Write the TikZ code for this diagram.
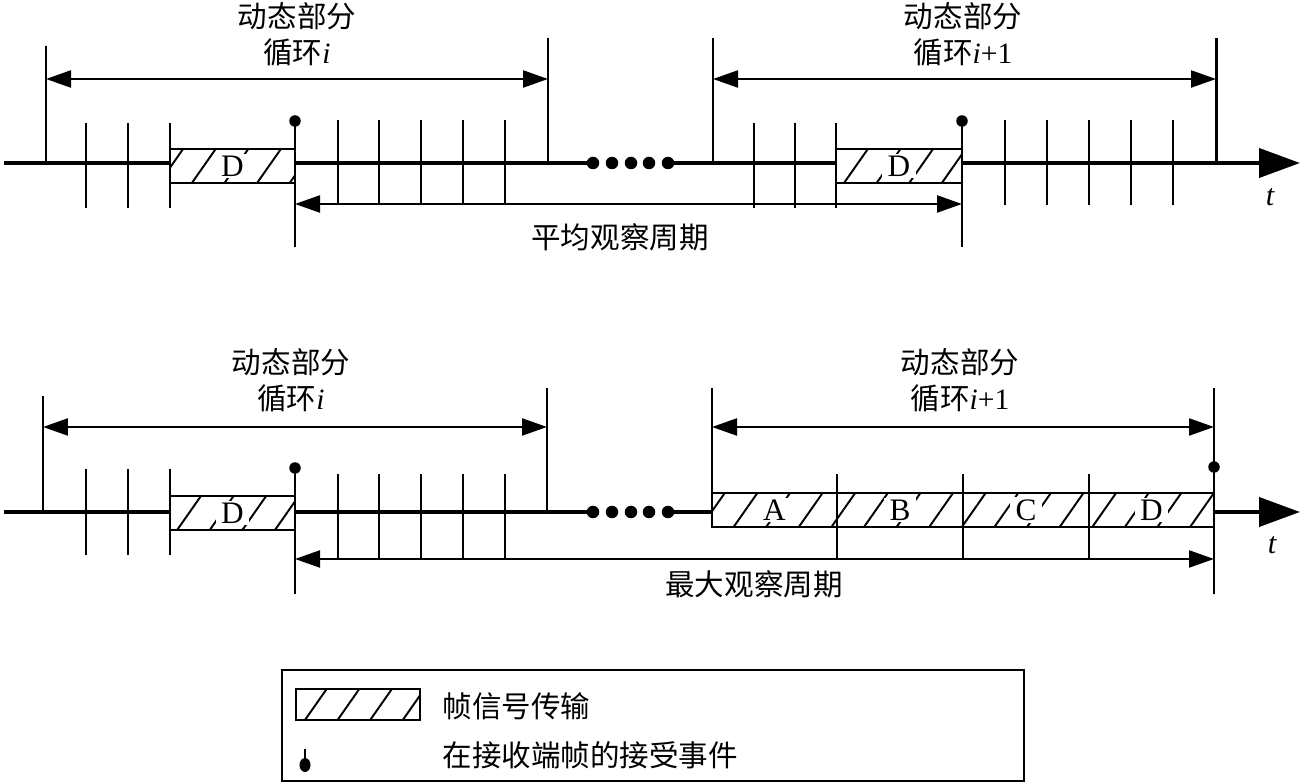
\documentclass[tikz,border=0pt]{standalone}
\usepackage{fontspec}
\setmainfont{Liberation Serif}
\newfontfamily\cjk{Noto Sans CJK SC}
\usetikzlibrary{arrows.meta, positioning, patterns.meta, shapes.geometric}

\tikzset{
    % Time axis
    axisln/.style={line width=1.15pt},
    axisarrow/.style={line width=1.15pt, -{Triangle[length=4.1mm, width=2.9mm]}},
    tickln/.style={line width=0.65pt},
    bound/.style={line width=0.85pt},
    % Dimension arrows
    darrow/.style={line width=0.65pt, {Triangle[length=2.5mm, width=1.7mm]}-{Triangle[length=2.5mm, width=1.7mm]}},
    % Frame transmission
    hatchbox/.style={rectangle, draw, line width=0.65pt, inner sep=0pt, outer sep=0pt,
                minimum width=1.25cm, minimum height=0.34cm,
                preaction={fill=white},
                pattern={Lines[angle=55, distance=7.6pt, line width=0.55pt]}},
    boxlbl/.style={fill=white, inner xsep=1.6pt, inner ysep=0.6pt, font=\fontsize{8.9}{9}\selectfont},
    cyclbl/.style={align=center, inner sep=0pt, font=\fontsize{8.4}{10.2}\selectfont},
    perlbl/.style={inner sep=0pt, font=\fontsize{8.4}{10}\selectfont},
    tlbl/.style={inner sep=0pt, font=\fontsize{8.6}{10}\selectfont\itshape},
    % Markers
    evdot/.style={circle, fill, inner sep=0pt, minimum size=1.15mm},
    sepdot/.style={circle, fill, inner sep=0pt, minimum size=1.25mm},
}

\begin{document}
\begin{tikzpicture}
\useasboundingbox (0,0) rectangle (13.01,-7.83);

% ===== Upper timeline: average observation period =====
% Cycle titles
\node[cyclbl] (ttl1) at (2.97,-0.34) {{\cjk 动态部分}\\{\cjk 循环}\textit{i}};
\node[cyclbl] (ttl2) at (9.63,-0.34) {{\cjk 动态部分}\\{\cjk 循环}\textit{i}+1};

% Cycle bounds
\coordinate (u1L) at (0.46,-0.79);
\coordinate (u1R) at (5.48,-0.79);
\coordinate (u2L) at (7.13,-0.79);
\coordinate (u2R) at (12.16,-0.79);
\draw[bound] (0.46,-0.46) -- (0.46,-1.63);
\draw[bound] (5.48,-0.38) -- (5.48,-1.63);
\draw[bound] (7.13,-0.38) -- (7.13,-1.63);
\draw[bound] (12.16,-0.38) -- (12.16,-1.63);
\draw[darrow] (u1L) -- (u1R);
\draw[darrow] (u2L) -- (u2R);

% Axis
\node[sepdot] (ud1) at (5.93,-1.63) {};
\node[sepdot] (ud2) at (6.12,-1.63) {};
\node[sepdot] (ud3) at (6.31,-1.63) {};
\node[sepdot] (ud4) at (6.49,-1.63) {};
\node[sepdot] (ud5) at (6.68,-1.63) {};
\coordinate (u0) at (0.04,-1.63);
\coordinate (uEnd) at (13.00,-1.63);
\draw[axisln] (u0) -- (ud1.center);
\draw[axisarrow] (ud5.center) -- (uEnd);

% Slots
\draw[tickln] (0.86,-1.23) -- (0.86,-2.08) (1.28,-1.23) -- (1.28,-2.08) (1.70,-1.23) -- (1.70,-2.08);
\draw[tickln] (3.38,-1.20) -- (3.38,-2.04) (3.79,-1.20) -- (3.79,-2.04) (4.21,-1.20) -- (4.21,-2.04)
              (4.63,-1.20) -- (4.63,-2.04) (5.05,-1.20) -- (5.05,-2.04);
\draw[tickln] (7.54,-1.23) -- (7.54,-2.08) (7.95,-1.23) -- (7.95,-2.08) (8.36,-1.23) -- (8.36,-2.08);
\draw[tickln] (10.05,-1.20) -- (10.05,-2.05) (10.47,-1.20) -- (10.47,-2.05) (10.89,-1.20) -- (10.89,-2.05)
              (11.31,-1.20) -- (11.31,-2.05) (11.73,-1.20) -- (11.73,-2.05);

% Frames
\node[hatchbox, label={[boxlbl]center:D}] (uf1) at (2.325,-1.66) {};
\node[hatchbox, minimum width=1.26cm, label={[boxlbl]center:D}] (uf2) at (8.99,-1.66) {};

% Receive events
\node[evdot] (uev1) at (2.95,-1.21) {};
\node[evdot] (uev2) at (9.62,-1.21) {};
\coordinate (uev1b) at (2.95,-2.47);
\coordinate (uev2b) at (9.62,-2.47);
\draw[tickln] (uev1.center) -- (uev1b);
\draw[tickln] (uev2.center) -- (uev2b);
\coordinate (uavgL) at (2.95,-2.04);
\coordinate (uavgR) at (9.62,-2.04);
\draw[darrow] (uavgL) -- (uavgR);
\node[perlbl] (avg) at (6.20,-2.37) {\cjk 平均观察周期};
\node[tlbl] (ut) at (12.70,-1.97) {t};

% ===== Lower timeline: maximum observation period =====
\node[cyclbl] (ttl3) at (2.91,-3.80) {{\cjk 动态部分}\\{\cjk 循环}\textit{i}};
\node[cyclbl] (ttl4) at (9.60,-3.80) {{\cjk 动态部分}\\{\cjk 循环}\textit{i}+1};

\coordinate (l1L) at (0.43,-4.27);
\coordinate (l1R) at (5.47,-4.27);
\coordinate (l2L) at (7.12,-4.27);
\coordinate (l2R) at (12.14,-4.27);
\draw[bound] (0.43,-3.96) -- (0.43,-5.12);
\draw[bound] (5.47,-3.88) -- (5.47,-5.12);
\draw[bound] (7.12,-3.88) -- (7.12,-5.27);
\draw[tickln] (12.14,-3.88) -- (12.14,-5.94);
\draw[darrow] (l1L) -- (l1R);
\draw[darrow] (l2L) -- (l2R);

% Axis
\node[sepdot] (ld1) at (5.93,-5.12) {};
\node[sepdot] (ld2) at (6.12,-5.12) {};
\node[sepdot] (ld3) at (6.31,-5.12) {};
\node[sepdot] (ld4) at (6.49,-5.12) {};
\node[sepdot] (ld5) at (6.68,-5.12) {};
\coordinate (l0) at (0.04,-5.12);
\coordinate (lEnd) at (13.00,-5.12);
\draw[axisln] (l0) -- (ld1.center);
\draw[axisarrow] (ld5.center) -- (lEnd);

% Slots
\draw[tickln] (0.86,-4.69) -- (0.86,-5.55) (1.28,-4.69) -- (1.28,-5.55) (1.70,-4.69) -- (1.70,-5.55);
\draw[tickln] (3.38,-4.74) -- (3.38,-5.59) (3.79,-4.74) -- (3.79,-5.59) (4.21,-4.74) -- (4.21,-5.59)
              (4.63,-4.74) -- (4.63,-5.59) (5.05,-4.74) -- (5.05,-5.59);

% Frames
\node[hatchbox, label={[boxlbl]center:D}] (lf1) at (2.325,-5.13) {};
\node[hatchbox, minimum width=1.25cm, label={[boxlbl]center:A}] (lfa) at (7.745,-5.10) {};
\node[hatchbox, minimum width=1.26cm, right=0cm of lfa, label={[boxlbl]center:B}] (lfb) {};
\node[hatchbox, minimum width=1.26cm, right=0cm of lfb, label={[boxlbl]center:C}] (lfc) {};
\node[hatchbox, minimum width=1.25cm, right=0cm of lfc, label={[boxlbl]center:D}] (lfd) {};
\draw[tickln] (8.37,-4.74) -- (8.37,-5.59) (9.63,-4.74) -- (9.63,-5.59) (10.89,-4.74) -- (10.89,-5.59);

% Receive events
\node[evdot] (lev1) at (2.95,-4.68) {};
\node[evdot] (lev2) at (12.14,-4.67) {};
\coordinate (lev1b) at (2.95,-5.94);
\draw[tickln] (lev1.center) -- (lev1b);
\coordinate (lmaxL) at (2.95,-5.59);
\coordinate (lmaxR) at (12.14,-5.59);
\draw[darrow] (lmaxL) -- (lmaxR);
\node[perlbl] (maxp) at (7.54,-5.84) {\cjk 最大观察周期};
\node[tlbl] (lt) at (12.72,-5.45) {t};

% ===== Legend =====
\draw[line width=0.65pt] (2.82,-6.70) rectangle (10.24,-7.81);
\node[hatchbox, minimum width=1.24cm, minimum height=0.31cm] (lgbox) at (3.58,-7.045) {};
\node[perlbl, anchor=west] (lgtx1) at (4.42,-7.06) {\cjk 帧信号传输};
\node[ellipse, fill, inner sep=0pt, minimum width=1.1mm, minimum height=1.4mm] (lgdot) at (3.05,-7.65) {};
\coordinate (lgtop) at (3.05,-7.49);
\draw[tickln] (lgtop) -- (lgdot.center);
\node[perlbl, anchor=west] (lgtx2) at (4.42,-7.55) {\cjk 在接收端帧的接受事件};

\end{tikzpicture}
\end{document}
